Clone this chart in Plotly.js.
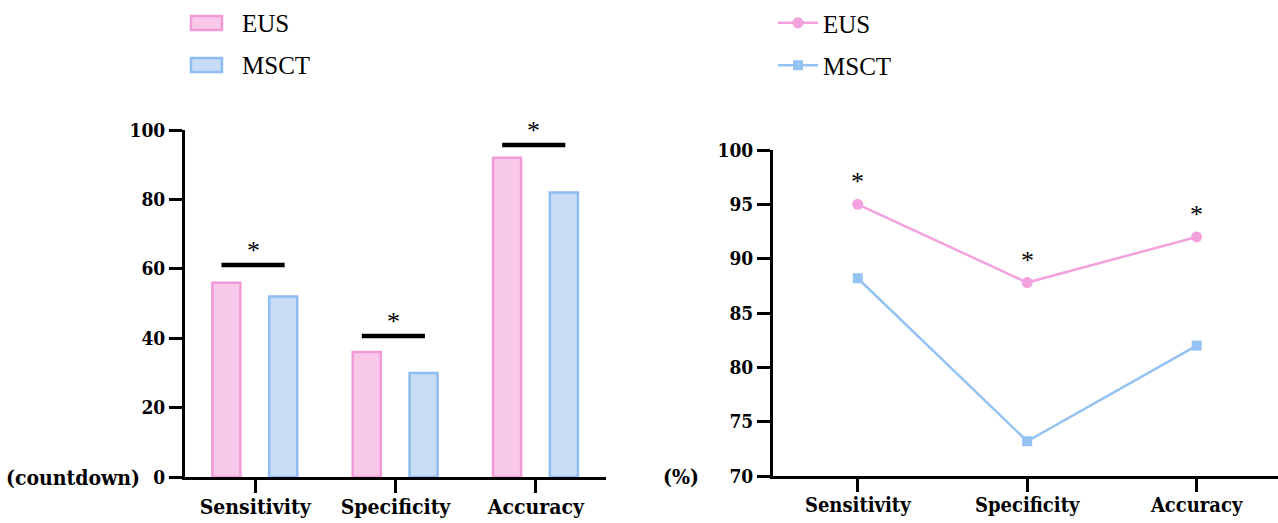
<!DOCTYPE html>
<html>
<head>
<meta charset="utf-8">
<script src="https://cdn.plot.ly/plotly-3.0.1.min.js"></script>
<style>html,body{margin:0;padding:0;background:#fff;}#chart{width:1278px;height:523px;}</style>
</head>
<body>
<div id="chart"></div>
<script>
// ---- data ----
const categories = ["Sensitivity", "Specificity", "Accuracy"];
const barEUS = [56, 36, 92];
const barMSCT = [52, 30, 82];
const barSigLevels = [61.1, 40.6, 95.7];
const lineEUS = [95, 87.8, 92];
const lineMSCT = [88.2, 73.2, 82];
const leftTicks = [0, 20, 40, 60, 80, 100];
const rightTicks = [70, 75, 80, 85, 90, 95, 100];
const seriesNames = ["EUS", "MSCT"];

// ---- styles ----
const serif = "Liberation Serif";
const boldSerif = "DejaVu Serif Condensed";
const pinkFill = "#f8c8e9", pinkLine = "#f29ad9";
const blueFill = "#c7ddf6", blueLine = "#8fbdf2";
const W = 1278, H = 523;

function tf(size) { return {family: boldSerif, size: size, color: "#000", weight: "bold"}; }

const traces = [
  {type: "bar", x: categories, y: barEUS, name: seriesNames[0], xaxis: "x", yaxis: "y",
   width: 0.2, offset: -0.305, showlegend: false,
   marker: {color: pinkFill, line: {color: pinkLine, width: 2.5}}},
  {type: "bar", x: categories, y: barMSCT, name: seriesNames[1], xaxis: "x", yaxis: "y",
   width: 0.2, offset: 0.1, showlegend: false,
   marker: {color: blueFill, line: {color: blueLine, width: 2.5}}},
  {type: "scatter", mode: "lines+markers", x: categories, y: lineEUS, name: seriesNames[0],
   xaxis: "x2", yaxis: "y2", line: {color: "#f3a2dd", width: 2.5}, legendgroup: "a",
   marker: {symbol: "circle", size: 11, color: "#f3a2dd"}, legend: "legend2"},
  {type: "scatter", mode: "lines+markers", x: categories, y: lineMSCT, name: seriesNames[1],
   xaxis: "x2", yaxis: "y2", line: {color: "#93c2f3", width: 2.5}, legendgroup: "b",
   marker: {symbol: "square", size: 10, color: "#93c2f3"}, legend: "legend2"}
];

const shapes = [];
const annotations = [];
barSigLevels.forEach((v, i) => {
  shapes.push({type: "line", xref: "x", yref: "y", x0: i - 0.24, x1: i + 0.21, y0: v, y1: v,
               line: {color: "#000", width: 4.5}});
  annotations.push({xref: "x", yref: "y", x: i - 0.015, y: v, text: "*", showarrow: false,
                    yanchor: "bottom", yshift: -2, font: {family: serif, size: 26, color: "#000"}});
});
lineEUS.forEach((v, i) => {
  annotations.push({xref: "x2", yref: "y2", x: categories[i], y: v, text: "*", showarrow: false,
                    yanchor: "bottom", yshift: 6, font: {family: serif, size: 26, color: "#000"}});
});
annotations.push({xref: "paper", yref: "paper", x: 142 / W, y: 1 - 477 / H, xanchor: "right", yanchor: "middle",
                  text: "(countdown)", showarrow: false, font: tf(21)});
annotations.push({xref: "paper", yref: "paper", x: 701 / W, y: 1 - 476 / H, xanchor: "right", yanchor: "middle",
                  text: "(%)", showarrow: false, font: tf(21)});

// legend of the bar chart with rectangular swatches
const legFills = [pinkFill, blueFill], legLines = [pinkLine, blueLine];
seriesNames.forEach((nm, i) => {
  const cy = 23 + i * 42;
  shapes.push({type: "rect", xref: "paper", yref: "paper",
               x0: 191 / W, x1: 222 / W, y0: 1 - (cy - 7) / H, y1: 1 - (cy + 7) / H,
               fillcolor: legFills[i], line: {color: legLines[i], width: 2.5}});
  annotations.push({xref: "paper", yref: "paper", x: 240 / W, y: 1 - cy / H, xanchor: "left", yanchor: "middle",
                    text: nm, showarrow: false, font: {family: serif, size: 25, color: "#000"}});
});

function ax(extra) {
  return Object.assign({
    showgrid: false, zeroline: false, showline: true, linecolor: "#000", linewidth: 3,
    ticks: "outside", ticklen: 13, tickwidth: 3, tickcolor: "#000", fixedrange: true
  }, extra);
}

const layout = {
  width: W, height: H,
  margin: {l: 0, r: 0, t: 0, b: 0},
  paper_bgcolor: "#fff", plot_bgcolor: "#fff",
  barmode: "overlay",
  xaxis: ax({domain: [185 / W, 606 / W], type: "category", range: [-0.5, 2.5], anchor: "y", ticklabelstandoff: -4, tickfont: tf(21)}),
  yaxis: ax({domain: [1 - 477 / H, 1 - 130 / H], range: [0, 100], tickvals: leftTicks, anchor: "x", tickfont: tf(19)}),
  xaxis2: ax({domain: [773 / W, 1], type: "category", range: [-0.5, 2.48], anchor: "y2", ticklabelstandoff: -4, tickfont: tf(20)}),
  yaxis2: ax({domain: [1 - 476 / H, 1 - 150 / H], range: [70, 100], tickvals: rightTicks, anchor: "x2", tickfont: tf(19)}),
  legend2: {x: 773 / W, y: 1, xanchor: "left", yanchor: "top", orientation: "v",
           font: {family: serif, size: 25, color: "#000"}, bgcolor: "rgba(0,0,0,0)",
           tracegroupgap: 7, traceorder: "grouped", itemwidth: 40},
  shapes: shapes,
  annotations: annotations,
  showlegend: true
};

Plotly.newPlot("chart", traces, layout, {displayModeBar: false, staticPlot: true});
</script>
</body>
</html>
